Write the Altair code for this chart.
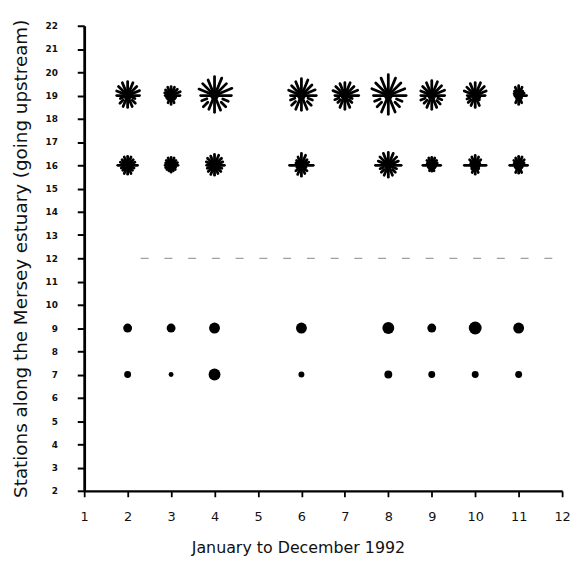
import altair as alt
import pandas as pd
import numpy as np

# ---------------- data ----------------
month_ticks = list(range(1, 13))
station_ticks = list(range(2, 23))

# ray directions of the star glyphs (degrees, counter-clockwise from east)
ray_dirs = [0, 22.5, 45, 67.5, 90, 112.5, 135, 157.5,
            180, 202.5, 225, 247.5, 270, 292.5, 315, 337.5]

# upper row of star glyphs (station 19)
star_up_station = 19
star_up_months = [2, 3, 4, 6, 7, 8, 9, 10, 11]
star_up_rays = [
    [12, 13, 13, 14, 14, 14, 13, 12, 11, 8, 11, 12, 12, 12, 11, 8],
    [9, 10, 9, 9, 9, 9, 8, 7, 6, 5, 5, 8, 9, 8, 5, 5],
    [17, 19, 17, 19, 19, 17, 17, 17, 14, 14, 16, 15, 17, 16, 16, 15],
    [15, 15, 15, 17, 17, 15, 14, 14, 11, 12, 14, 15, 15, 15, 14, 12],
    [14, 14, 13, 14, 13, 13, 13, 13, 10, 11, 10, 13, 14, 13, 10, 8],
    [18, 18, 18, 19, 21, 19, 18, 18, 15, 15, 16, 18, 19, 18, 16, 15],
    [13, 14, 14, 15, 15, 14, 13, 12, 11, 12, 11, 13, 14, 13, 12, 11],
    [10, 12, 13, 14, 13, 13, 12, 12, 8, 9, 10, 11, 12, 11, 6, 5],
    [8, 6, 6, 9, 10, 9, 6, 5, 4, 3, 3, 8, 9, 8, 4, 3],
]

# lower row of star glyphs (station 16)
star_low_station = 16
star_low_months = [2, 3, 4, 6, 8, 9, 10, 11]
star_low_rays = [
    [10, 8, 8, 9, 9, 9, 8, 8, 10, 7, 7, 9, 9, 9, 7, 7],
    [7, 7, 7, 8, 8, 8, 7, 6, 6, 6, 6, 6, 7, 6, 6, 5],
    [10, 9, 10, 11, 11, 10, 10, 9, 8, 8, 9, 10, 10, 9, 9, 8],
    [12, 8, 8, 11, 12, 9, 7, 6, 12, 5, 8, 10, 11, 9, 8, 5],
    [13, 11, 12, 13, 13, 13, 12, 11, 13, 9, 10, 11, 12, 11, 10, 9],
    [9, 6, 7, 8, 8, 8, 7, 5, 9, 4, 4, 6, 6, 6, 4, 4],
    [11, 5, 8, 9, 10, 9, 8, 5, 11, 4, 5, 8, 9, 8, 5, 4],
    [9, 6, 8, 9, 9, 8, 7, 5, 9, 4, 4, 8, 8, 8, 4, 4],
]

# rows of dots (dot radius)
dot_hi_station = 9
dot_hi_months = [2, 3, 4, 6, 8, 9, 10, 11]
dot_hi_radius = [4.5, 4.5, 5.5, 5.5, 6, 4.5, 6.5, 5.5]
dot_lo_station = 7
dot_lo_months = [2, 3, 4, 6, 8, 9, 10, 11]
dot_lo_radius = [3.5, 2.5, 6, 3, 4, 3.5, 3.5, 3.5]

# faint dashed trace (station 12)
dash_station = 12
dash_from_month = 2.3
dash_to_month = 12

# ---------------- tables ----------------
detached_dirs = {202.5, 225, 315, 337.5}

def rays_table(station, months, rays):
    rows = []
    for m, lens in zip(months, rays):
        for d, L in zip(ray_dirs, lens):
            rows.append({"month": m, "station": station,
                         "rot": (90 - d) % 360, "sz": 4 * L * L,
                         "detached": d in detached_dirs})
    return rows

rays = pd.DataFrame(rays_table(star_up_station, star_up_months, star_up_rays)
                    + rays_table(star_low_station, star_low_months, star_low_rays))
centers = pd.DataFrame(
    [{"month": m, "station": star_up_station} for m in star_up_months]
    + [{"month": m, "station": star_low_station} for m in star_low_months])
dots = pd.DataFrame(
    [{"month": m, "station": dot_hi_station, "sz": (2 * r) ** 2} for m, r in zip(dot_hi_months, dot_hi_radius)]
    + [{"month": m, "station": dot_lo_station, "sz": (2 * r) ** 2} for m, r in zip(dot_lo_months, dot_lo_radius)])
dash = pd.DataFrame([{"x": dash_from_month, "x2": dash_to_month, "station": dash_station}])

# ---------------- chart ----------------
FONT = "DejaVu Sans"
xscale = alt.Scale(domain=[1, 12], nice=False, zero=False)
yscale = alt.Scale(domain=[2, 22], nice=False, zero=False)

xaxis = alt.Axis(values=month_ticks, title="January to December 1992", grid=False,
                 domainColor="black", domainWidth=2.2, tickColor="black", tickWidth=1.8,
                 tickSize=6, labelFontSize=13, labelColor="#111", labelPadding=14,
                 labelFont=FONT, titleFont=FONT, titleFontSize=16, titleFontWeight="normal",
                 titleColor="#111", titlePadding=16, labelFlush=False,
                 titleX=216, titleAnchor="middle")
yaxis = alt.Axis(values=station_ticks, title="Stations along the Mersey estuary (going upstream)",
                 grid=False, domainColor="black", domainWidth=2.8, tickColor="black", tickWidth=2,
                 tickSize=7, labelFontSize=9, labelFontWeight="bold", labelColor="#111",
                 labelPadding=20, labelFont=FONT, titleFont=FONT, titleFontSize=18.5,
                 titleFontWeight="normal", titleColor="#111",
                 titleX=-58, titleBaseline="alphabetic")

base_x = alt.X("month:Q", scale=xscale, axis=xaxis)
base_y = alt.Y("station:Q", scale=yscale, axis=yaxis)

dash_layer = alt.Chart(dash).mark_rule(color="#a0a0a0", strokeWidth=1.3, strokeDash=[8, 16]).encode(
    x=alt.X("x:Q", scale=xscale, axis=xaxis), x2="x2:Q",
    y=alt.Y("station:Q", scale=yscale, axis=yaxis))

ray_solid = alt.Chart(rays).transform_filter("!datum.detached").mark_point(
    shape="M0,-0.15L0,-1", filled=False, color="black", strokeWidth=2.8, strokeCap="round", opacity=1
).encode(x=base_x, y=base_y, angle=alt.Angle("rot:Q", scale=None), size=alt.Size("sz:Q", scale=None))

ray_detached = alt.Chart(rays).transform_filter("datum.detached").mark_point(
    shape="M0,-0.6L0,-1", filled=False, color="black", strokeWidth=2.8, strokeCap="round", opacity=1
).encode(x=base_x, y=base_y, angle=alt.Angle("rot:Q", scale=None), size=alt.Size("sz:Q", scale=None))

center_layer = alt.Chart(centers).mark_circle(color="black", opacity=1, size=80).encode(x=base_x, y=base_y)

dot_layer = alt.Chart(dots).mark_circle(color="black", opacity=1).encode(
    x=base_x, y=base_y, size=alt.Size("sz:Q", scale=None))

chart = alt.layer(dash_layer, ray_solid, ray_detached, center_layer, dot_layer).properties(
    width=483, height=470,
    autosize=alt.AutoSizeParams(type="none"),
    padding={"left": 77, "top": 15, "right": 10, "bottom": 70},
    background="white",
).configure_view(stroke=None)

chart.save("out.html", embed_options={"renderer": "svg", "actions": False})
